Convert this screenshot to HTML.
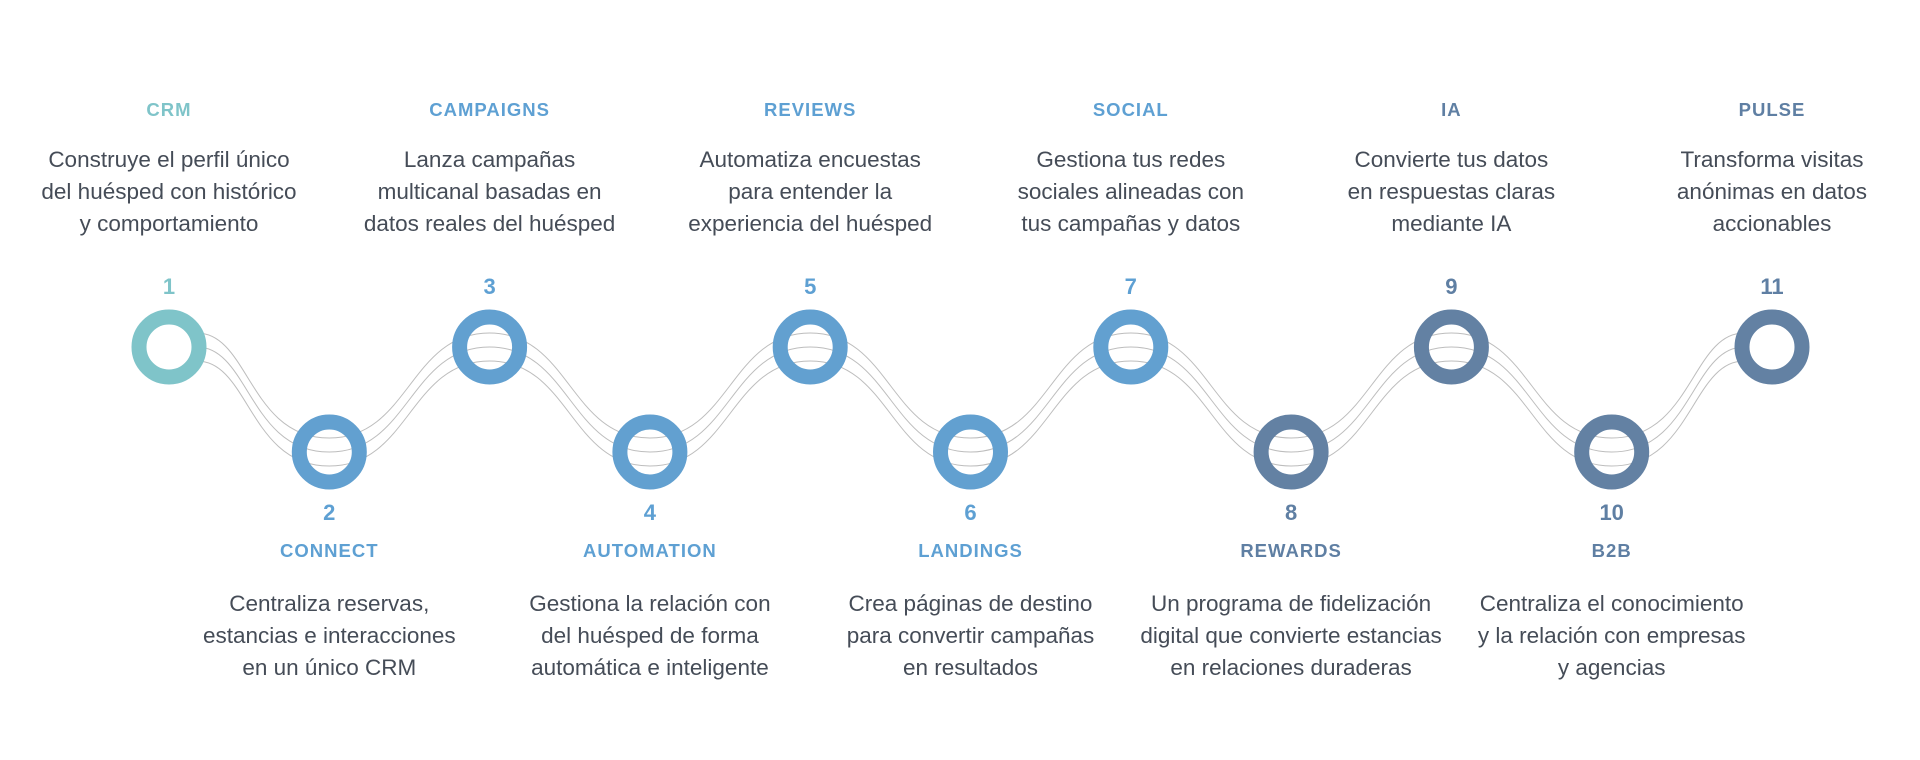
<!DOCTYPE html>
<html><head><meta charset="utf-8"><style>
body{margin:0;width:1920px;height:760px;background:#fff;overflow:hidden;position:relative;font-family:"Liberation Sans",sans-serif}
.t{position:absolute;width:300px;text-align:center;font-weight:bold;font-size:18.5px;letter-spacing:1px}
.n{position:absolute;width:100px;text-align:center;font-weight:bold;font-size:22px}
.d{position:absolute;width:340px;text-align:center;font-size:22.5px;line-height:32px;color:#454c57}
.a{color:#7fc4c9}.b{color:#5ea0d3}.c{color:#5f7fa3}
svg{position:absolute;left:0;top:0}
</style></head><body>
<svg width="1920" height="760" id="s"></svg>
<div id="w"></div>
<script>
(function(){
var xs=[],i;for(i=0;i<11;i++)xs.push(169+160.3*i);
var ys=[347,452];
var data=[
["CRM",["Construye el perfil único","del huésped con histórico","y comportamiento"],"a","#7fc4c9"],
["CONNECT",["Centraliza reservas,","estancias e interacciones","en un único CRM"],"b","#62a0d0"],
["CAMPAIGNS",["Lanza campañas","multicanal basadas en","datos reales del huésped"],"b","#62a0d0"],
["AUTOMATION",["Gestiona la relación con","del huésped de forma","automática e inteligente"],"b","#62a0d0"],
["REVIEWS",["Automatiza encuestas","para entender la","experiencia del huésped"],"b","#62a0d0"],
["LANDINGS",["Crea páginas de destino","para convertir campañas","en resultados"],"b","#62a0d0"],
["SOCIAL",["Gestiona tus redes","sociales alineadas con","tus campañas y datos"],"b","#62a0d0"],
["REWARDS",["Un programa de fidelización","digital que convierte estancias","en relaciones duraderas"],"c","#6381a3"],
["IA",["Convierte tus datos","en respuestas claras","mediante IA"],"c","#6381a3"],
["B2B",["Centraliza el conocimiento","y la relación con empresas","y agencias"],"c","#6381a3"],
["PULSE",["Transforma visitas","anónimas en datos","accionables"],"c","#6381a3"]];
var s="",h="";
[-14,0,14].forEach(function(o){var p="";for(i=0;i<10;i++){var x0=xs[i],x1=xs[i+1],y0=ys[i%2]+o,y1=ys[(i+1)%2]+o,dx=x1-x0;
var sx=(i==0)?x0+28:x0, ex=(i==9)?x1-28:x1;
p+="M"+sx+" "+y0+" C"+(x0+dx*0.5)+" "+y0+","+(x1-dx*0.5)+" "+y1+","+ex+" "+y1+" ";}
s+='<path d="'+p+'" fill="none" stroke="#bdbdbd" stroke-width="1"/>';});
for(i=0;i<11;i++){var up=(i%2==0),x=xs[i],y=ys[i%2],d=data[i];
s+='<circle cx="'+x+'" cy="'+y+'" r="30" fill="none" stroke="'+d[3]+'" stroke-width="15"/>';
if(up){h+='<div class="t '+d[2]+'" style="left:'+(x-150)+'px;top:99px">'+d[0]+'</div>';
h+='<div class="d" style="left:'+(x-170)+'px;top:144px">'+d[1].join("<br>")+'</div>';
h+='<div class="n '+d[2]+'" style="left:'+(x-50)+'px;top:274px">'+(i+1)+'</div>';}
else{h+='<div class="n '+d[2]+'" style="left:'+(x-50)+'px;top:500px">'+(i+1)+'</div>';
h+='<div class="t '+d[2]+'" style="left:'+(x-150)+'px;top:540px">'+d[0]+'</div>';
h+='<div class="d" style="left:'+(x-170)+'px;top:588px">'+d[1].join("<br>")+'</div>';}}
document.getElementById("s").innerHTML=s;document.getElementById("w").innerHTML=h;
})();
</script>
</body></html>
